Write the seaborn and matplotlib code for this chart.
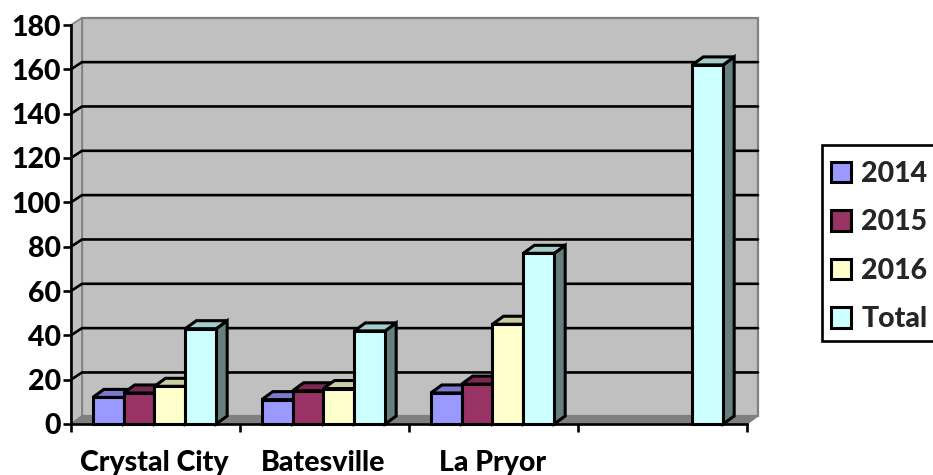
import matplotlib
matplotlib.use("Agg")
import matplotlib.pyplot as plt
from matplotlib.patches import Polygon, Rectangle
from matplotlib.colors import to_rgb
import numpy as np
import pandas as pd
import seaborn as sns

categories = ["Crystal City", "Batesville", "La Pryor", ""]
years = ["2014", "2015", "2016", "Total"]
v2014 = [12, 11, 14, None]
v2015 = [14, 15, 18, None]
v2016 = [17, 16, 45, None]
vtotal = [43, 42, 77, 162]
colors = ["#9999FF", "#993366", "#FFFFCC", "#CCFFFF"]
yticks = list(range(0, 181, 20))

W, H = 933, 475
L, R, T, B = 71, 747, 25, 424
DX, DY = 11, 8        # depth of the pseudo-3D box in pixels
bar_dx, bar_dy = 11, 8
lw = 2.2

df = pd.DataFrame({"cat": categories, "2014": v2014, "2015": v2015, "2016": v2016, "Total": vtotal})
long = df.melt(id_vars="cat", var_name="year", value_name="value").dropna()

sns.set_style("white")
plt.rcParams["font.family"] = ["Lato", "DejaVu Sans"]
plt.rcParams["font.weight"] = "black"

fig = plt.figure(figsize=(W / 100, H / 100), dpi=100)
ax = fig.add_axes([L / W, 1 - B / H, (R - L) / W, (B - T) / H])

sns.barplot(data=long, x="cat", y="value", hue="year", order=categories, hue_order=years,
            palette=colors, width=0.73, saturation=1, errorbar=None, ax=ax,
            edgecolor="black", linewidth=lw)

x_lo, x_hi = -0.494, 3.506
ax.set_xlim(x_lo, x_hi)
ax.set_ylim(0, 180)
ax.set_xlabel("")
ax.set_ylabel("")

px = 4 / (R - L)
py = 180 / (B - T)
dx, dy = DX * px, DY * py
bdx, bdy = bar_dx * px, bar_dy * py

# walls and floor
wall = dict(clip_on=False, zorder=0.5)
ax.add_patch(Polygon([(x_lo + dx, dy), (x_hi + dx, dy), (x_hi + dx, 180 + 0.9 * dy), (x_lo + dx, 180 + 0.9 * dy)],
                     fc="#C0C0C0", ec="#808080", lw=1.6, **wall))
ax.add_patch(Polygon([(x_lo, 0), (x_lo + dx, dy), (x_lo + dx, 180 + 0.9 * dy), (x_lo, 180)],
                     fc="#C0C0C0", ec="#808080", lw=1.2, **wall))
ax.add_patch(Polygon([(x_lo, 0), (x_hi, 0), (x_hi + dx, dy), (x_lo + dx, dy)],
                     fc="#808080", ec="#808080", lw=1, **wall))
for v in yticks[1:-1]:
    ax.plot([x_lo, x_lo + dx, x_hi + dx], [v, v + 0.9 * dy, v + 0.9 * dy], color="black", lw=1.9,
            clip_on=False, zorder=0.8, solid_joinstyle="miter")

# depth faces of the bars
z = 2
for cont, c in zip(ax.containers, colors):
    rgb = np.array(to_rgb(c))
    for bar in cont:
        h = bar.get_height()
        if not np.isfinite(h):
            continue
        x0, w = bar.get_x(), bar.get_width()
        x1 = x0 + w
        style = dict(ec="black", lw=lw, clip_on=False, joinstyle="miter")
        ax.add_patch(Polygon([(x1, 0), (x1 + bdx, bdy), (x1 + bdx, h + bdy), (x1, h)],
                             fc=rgb * 0.5, zorder=z, **style))
        ax.add_patch(Polygon([(x0, h), (x1, h), (x1 + bdx, h + bdy), (x0 + bdx, h + bdy)],
                             fc=rgb * 0.8, zorder=z, **style))
        bar.set_zorder(z + 0.5)
        bar.set_clip_on(False)
    z += 1

# axes
for s in ["top", "right"]:
    ax.spines[s].set_visible(False)
for s in ["left", "bottom"]:
    ax.spines[s].set_linewidth(1.9)
    ax.spines[s].set_color("black")
    ax.spines[s].set_zorder(10)
ax.patch.set_visible(False)

ax.set_yticks(yticks)
ax.set_yticklabels([str(v) for v in yticks], fontsize=20.5, fontweight="black", color="black")
ax.tick_params(axis="y", which="major", left=True, length=5.5, width=1.9, pad=1.5, color="black")
ax.set_xticks([x_lo + i for i in range(5)])
ax.set_xticklabels([])
ax.set_xticks(np.arange(4), labels=categories, minor=True)
ax.tick_params(axis="x", which="major", bottom=True, length=6, width=1.9, color="black")
ax.tick_params(axis="x", which="minor", bottom=False, length=0, pad=19, labelsize=20.5, labelcolor="black")
for t in ax.get_xticklabels(minor=True):
    t.set_fontweight("black")

# legend: frame drawn separately so its padding can match the reference
fig.add_artist(Rectangle((822 / W, 1 - 341 / H), 120 / W, 196 / H, transform=fig.transFigure,
                         fc="white", ec="black", lw=1.9, zorder=5))
handles, labels = ax.get_legend_handles_labels()
leg = ax.legend(handles, labels, loc="lower left", bbox_to_anchor=(822 / W, 1 - 341 / H),
                bbox_transform=fig.transFigure, borderaxespad=0, frameon=False,
                labelspacing=0.79, handlelength=0.72, handleheight=0.72,
                handletextpad=0.36, borderpad=0.30,
                prop={"family": "Lato", "weight": "black", "size": 20.5})
leg.set_zorder(20)
ax.set_zorder(6)

fig.savefig("out.png", dpi=100)
